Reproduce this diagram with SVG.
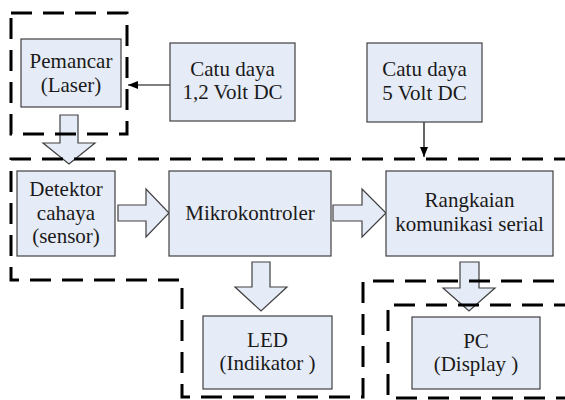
<svg xmlns="http://www.w3.org/2000/svg" width="565" height="400" viewBox="0 0 565 400" font-family="Liberation Serif, DejaVu Serif, serif">
<defs>
<style>
.box{fill:#E6ECF7;stroke:#404040;stroke-width:1.2}
.t{font-family:'Liberation Serif','DejaVu Serif',serif;font-size:21px;fill:#1a1a1a;text-anchor:middle}
.hol{fill:#E6ECF7;stroke:#404040;stroke-width:1.2;stroke-linejoin:miter}
.ln{fill:none;stroke:#000;stroke-width:1.2}
.dash{fill:none;stroke:#000;stroke-width:3;stroke-dasharray:21 11}
</style>
<marker id="ah" viewBox="0 0 10 10" refX="10" refY="5" markerWidth="10" markerHeight="10" markerUnits="userSpaceOnUse" orient="auto">
<path d="M0,1 L10,5 L0,9 Z" fill="#000"/>
</marker>
</defs>
<rect width="565" height="400" fill="#fff"/>

<g id="connectors">
<path class="hol" d="M60,115 H78 V143 H95 L69,164 L43,143 H60 Z"/>
<path class="hol" d="M118,205 H146 V189 L169,213 L146,237 V221 H118 Z"/>
<path class="hol" d="M333,205 H362 V189 L386,213 L362,237 V221 H333 Z"/>
<path class="hol" d="M252,262 H270 V287 H287 L261,311 L235,287 H252 Z"/>
<path class="hol" d="M460,262 H479 V288 H495 L469,311 L443,288 H460 Z"/>
<line class="ln" x1="170" y1="85" x2="128" y2="85" marker-end="url(#ah)"/>
<line class="ln" x1="424" y1="122" x2="424" y2="157" marker-end="url(#ah)"/>
</g>

<g id="regions">
<rect class="dash" x="11" y="13" width="116" height="121"/>
<path class="dash" d="M575,159 H11 V280 H182 V397 H363 V281 H575"/>
<path class="dash" d="M575,305 H388 V398 H575"/>
</g>

<g id="pemancar">
<rect class="box" x="21" y="39" width="100" height="68"/>
<text class="t" x="71" y="68">Pemancar</text>
<text class="t" x="71" y="92">(Laser)</text>
</g>
<g id="catu12">
<rect class="box" x="170" y="43" width="125" height="78"/>
<text class="t" x="232.5" y="76">Catu daya</text>
<text class="t" x="232.5" y="99">1,2 Volt DC</text>
</g>
<g id="catu5">
<rect class="box" x="367" y="43" width="115" height="79"/>
<text class="t" x="424.5" y="76">Catu daya</text>
<text class="t" x="424.5" y="100">5 Volt DC</text>
</g>
<g id="detektor">
<rect class="box" x="17" y="171" width="98" height="85"/>
<text class="t" x="66" y="196">Detektor</text>
<text class="t" x="66" y="220">cahaya</text>
<text class="t" x="66" y="243">(sensor)</text>
</g>
<g id="mikrokontroler">
<rect class="box" x="169" y="171" width="162" height="85"/>
<text class="t" x="250" y="220">Mikrokontroler</text>
</g>
<g id="rangkaian">
<rect class="box" x="386" y="171" width="167" height="85"/>
<text class="t" x="469.5" y="207">Rangkaian</text>
<text class="t" x="469.5" y="231">komunikasi serial</text>
</g>
<g id="led">
<rect class="box" x="203" y="316" width="129" height="73"/>
<text class="t" x="267.5" y="347">LED</text>
<text class="t" x="267.5" y="370">(Indikator )</text>
</g>
<g id="pc">
<rect class="box" x="412" y="317" width="128" height="72"/>
<text class="t" x="476" y="348">PC</text>
<text class="t" x="476" y="371">(Display )</text>
</g>
</svg>
